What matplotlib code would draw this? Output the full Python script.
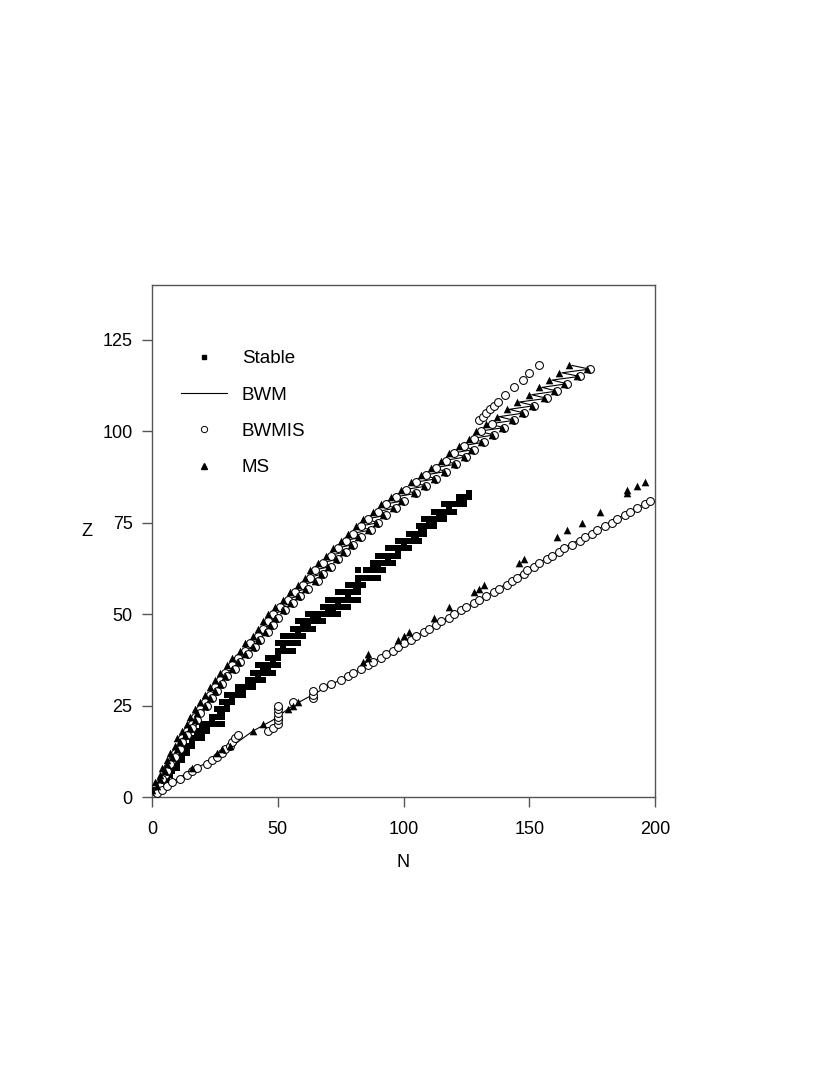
import matplotlib
matplotlib.use("Agg")
import matplotlib.pyplot as plt
from matplotlib.lines import Line2D

plt.rcParams['font.family'] = ['Liberation Sans', 'DejaVu Sans']

# ---------------- data ----------------
# Stable nuclei: Z and list of stable N
stable_Z = list(range(1, 84))
stable_N = [
    [0, 1], [1, 2], [3, 4], [5], [5, 6], [6, 7], [7, 8], [8, 9, 10], [10], [10, 11, 12],
    [12], [12, 13, 14], [14], [14, 15, 16], [16], [16, 17, 18, 20], [18, 20], [18, 20, 22], [20, 22], [20, 22, 23, 24, 26, 28],
    [24], [24, 25, 26, 27, 28], [27, 28], [26, 28, 29, 30], [30], [28, 30, 31, 32], [32], [30, 32, 33, 34, 36], [34, 36], [34, 36, 37, 38, 40],
    [38, 40], [38, 40, 41, 42, 44], [42], [40, 42, 43, 44, 46, 48], [44, 46], [42, 44, 46, 47, 48, 50], [48], [46, 48, 49, 50], [50], [50, 51, 52, 54, 56],
    [52], [50, 52, 53, 54, 55, 56, 58], [], [52, 54, 55, 56, 57, 58, 60], [58], [56, 58, 59, 60, 62, 64], [60, 62], [58, 60, 62, 63, 64, 66, 68], [64, 66], [62, 64, 65, 66, 67, 68, 69, 70, 72, 74],
    [70, 72], [68, 70, 71, 72, 73, 74, 76, 78], [74], [70, 72, 74, 75, 76, 77, 78, 80, 82], [78], [74, 76, 78, 79, 80, 81, 82], [81, 82], [78, 80, 82, 84], [82], [82, 83, 84, 85, 86, 88, 90],
    [], [82, 85, 86, 87, 88, 90, 92], [88, 90], [88, 90, 91, 92, 93, 94, 96], [94], [90, 92, 94, 95, 96, 97, 98], [98], [94, 96, 98, 99, 100, 102], [100], [98, 100, 101, 102, 103, 104, 106],
    [104, 105], [102, 104, 105, 106, 107, 108], [107, 108], [106, 108, 109, 110, 112], [110, 112], [108, 110, 111, 112, 113, 114, 116], [114, 116], [112, 114, 116, 117, 118, 120], [118], [116, 118, 119, 120, 121, 122, 124],
    [122, 124], [122, 124, 125, 126], [126],
]

# Upper (proton-rich) branch, even Z and odd Z drip points
up_even_Z = list(range(2, 119, 2))
up_even_N = [1, 2, 4, 5, 7, 8, 10, 11, 13, 15, 16, 18, 20, 22, 24, 26, 28, 31, 33, 36,
             38, 41, 43, 45, 47, 50, 53, 56, 59, 62, 64, 67, 70, 73, 76, 79, 82, 85, 89, 92,
             96, 100, 104, 108, 112, 116, 119, 123, 127, 130, 134, 138, 142, 146, 151, 155, 159, 163, 167]
up_odd_Z = list(range(3, 118, 2))
up_odd_N = [3, 4, 6, 7, 9, 11, 12, 14, 16, 18, 19, 22, 24, 26, 28, 30, 33, 35, 38, 41,
            43, 46, 48, 50, 53, 56, 59, 62, 66, 68, 71, 74, 77, 80, 83, 87, 90, 93, 97, 100,
            105, 109, 113, 117, 121, 125, 128, 132, 136, 140, 144, 148, 152, 157, 161, 165, 170, 174]

# BWMIS upper high-Z branch
bwmis_hi_N = [130, 131.5, 133, 134.5, 136, 137.5, 140.5, 144, 147.5, 150, 154]
bwmis_hi_Z = [103, 104, 105, 106, 107, 108, 110, 112, 114, 116, 118]

# Lower (neutron-rich) branch, BWMIS
low_Z = list(range(1, 82))
low_N = [2, 4, 6, 8, 11, 14, 16, 18, 22, 24, 26, 28, 29, 31, 32, 33, 34, 46, 48, 50,
         50, 50, 50, 50, 50, 56, 64, 64, 64, 68, 71, 75, 78, 80, 83, 86, 88, 91, 93, 96,
         98, 100, 103, 105, 108, 110, 113, 115, 118, 120, 123, 125, 128, 130, 133, 136, 138, 141, 143, 145,
         148, 149, 152, 154, 157, 159, 162, 164, 167, 170, 172, 175, 177, 180, 183, 185, 188, 190, 193, 196,
         198]

# Lower branch BWM line
bwm_low_N = [0, 8, 16, 24, 32, 40, 48, 56, 64, 72, 83, 100, 120, 138, 150, 165, 178, 198]
bwm_low_Z = [1, 4, 7.5, 10, 14, 18, 21, 25, 28, 31, 35, 42, 50, 57, 62.5, 68.5, 73.5, 81]

# Lower branch MS
ms_low_N = [16, 26, 28, 31, 40, 44, 54, 56, 58, 84, 86, 86, 98, 100, 102, 112, 118, 128, 130, 132,
            146, 148, 161, 165, 171, 178, 189, 189, 193, 196]
ms_low_Z = [8, 12, 13, 14, 18, 20, 24, 25, 26, 37, 38, 39, 43, 44, 45, 49, 52, 56, 57, 58,
            64, 65, 71, 73, 75, 78, 83, 84, 85, 86]

# ---------------- figure ----------------
fig = plt.figure(figsize=(8.17, 10.90), dpi=100)
ax = fig.add_axes([152/817, 1-797/1090, (655-152)/817, (797-285)/1090])

# stable squares
sN, sZ = [], []
for z, ns in zip(stable_Z, stable_N):
    for n in ns:
        sN.append(n)
        sZ.append(z)
ax.scatter(sN, sZ, marker='s', s=19, c='black', linewidths=0, zorder=2)

# BWM upper zigzag line (Z order)
bwm_up = sorted([(z, n) for z, n in zip(up_even_Z, up_even_N)] +
                [(z, n) for z, n in zip(up_odd_Z, up_odd_N)])
ax.plot([p[1] for p in bwm_up], [p[0] for p in bwm_up], color='black', lw=0.8, zorder=3)
ax.plot(bwm_low_N, bwm_low_Z, color='black', lw=0.8, zorder=3)

# BWMIS circles
ci_N = [n + 1 for z, n in zip(up_even_Z, up_even_N) if z <= 102] + up_odd_N + bwmis_hi_N + low_N
ci_Z = [z for z in up_even_Z if z <= 102] + up_odd_Z + bwmis_hi_Z + low_Z
ax.scatter(ci_N, ci_Z, marker='o', s=32, facecolors='white', edgecolors='black',
           linewidths=0.75, zorder=4)

# MS triangles
ms_N = [n - 1 for n in up_even_N] + [n - 1 for n in up_odd_N] + ms_low_N
ms_Z = list(up_even_Z) + list(up_odd_Z) + ms_low_Z
ax.scatter(ms_N, ms_Z, marker='^', s=30, c='black', linewidths=0, zorder=5)

ax.set_xlim(0, 200)
ax.set_ylim(0, 140)
ax.set_xticks([0, 50, 100, 150, 200])
ax.set_yticks([0, 25, 50, 75, 100, 125])
ax.tick_params(axis='x', direction='out', length=7, width=1, color='#555555', labelsize=13, pad=10)
ax.tick_params(axis='y', direction='out', length=7, width=1, color='#555555', labelsize=13, pad=7)
for sp in ax.spines.values():
    sp.set_color('#555555')
    sp.set_linewidth(1.0)

ax.text(-0.129, 0.518, 'Z', transform=ax.transAxes, fontsize=13, ha='center', va='center')
ax.text(0.5, -0.127, 'N', transform=ax.transAxes, fontsize=13, ha='center', va='center')

handles = [
    Line2D([], [], marker='s', ls='none', color='black', ms=3.5),
    Line2D([], [], color='black', lw=0.8),
    Line2D([], [], marker='o', ls='none', mfc='white', mec='black', mew=0.7, ms=4.5),
    Line2D([], [], marker='^', ls='none', color='black', ms=4.5),
]
ax.legend(handles, ['Stable', 'BWM', 'BWMIS', 'MS'], loc='upper left',
          bbox_to_anchor=(0.0577, 0.873), borderaxespad=0, borderpad=0,
          frameon=False, fontsize=13.5, handlelength=2.45, handletextpad=0.8,
          labelspacing=1.03)

fig.savefig('out.png', dpi=100)
